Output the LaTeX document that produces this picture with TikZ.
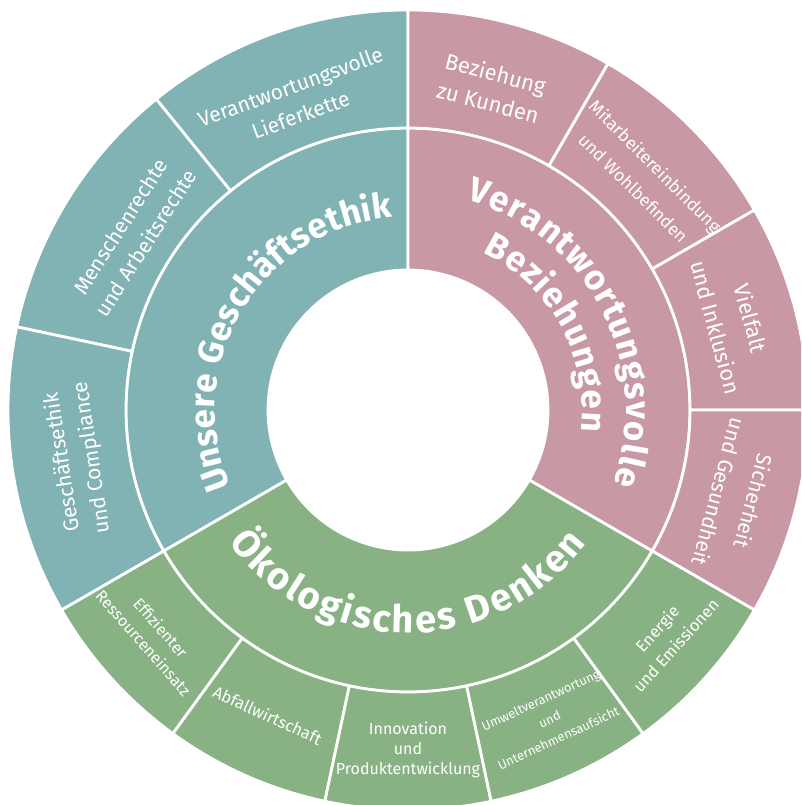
\documentclass[tikz,border=0pt]{standalone}
\usepackage{fontspec}
\setmainfont{Fira Sans}
\usetikzlibrary{decorations.text}

\definecolor{ethicteal}{RGB}{129,178,180}
\definecolor{relrose}{RGB}{200,152,165}
\definecolor{ecogreen}{RGB}{136,178,132}

\tikzset{
  piece/.style={draw=white, line width=2.8pt, line join=round},
  leaf/.style={text=white, align=center, inner sep=0pt,
    font=\fontsize{21}{30}\selectfont},
  hubtext/.style 2 args={decorate, decoration={text along path,
    text align=center, text={|#1|#2}}},
}

% annular sector: colour, start angle, end angle, inner radius, outer radius
\newcommand\ringpiece[5]{%
  \filldraw[piece, fill=#1]
    ([shift={(#2:#4pt)}]O) arc[start angle=#2, end angle=#3, radius=#4pt]
    -- ([shift={(#3:#5pt)}]O) arc[start angle=#3, end angle=#2, radius=#5pt]
    -- cycle;}
% letter formats of the curved headings (size, tracking)
\newcommand\ethicfont{\bfseries\fontsize{35}{35}\selectfont\color{white}\kern0.3pt}
\newcommand\rosefont{\bfseries\fontsize{35}{35}\selectfont\color{white}\kern1.3pt}
\newcommand\ecofont{\bfseries\fontsize{38}{38}\selectfont\color{white}\kern2.4pt}

\begin{document}
\begin{tikzpicture}
\clip (0,0) rectangle (801pt,805pt);
\fill[white] (0,0) rectangle (801pt,805pt);
\coordinate (O) at (408pt,395pt);

% inner ring
\ringpiece{ethicteal}{90}{210}{140}{282}
\ringpiece{relrose}{-30}{90}{140}{282}
\ringpiece{ecogreen}{210}{330}{140}{282}

% outer ring: business ethics
\ringpiece{ethicteal}{90}{129}{282}{400}
\ringpiece{ethicteal}{129}{168}{282}{400}
\ringpiece{ethicteal}{168}{210}{282}{400}
% outer ring: relationships
\ringpiece{relrose}{60}{90}{282}{400}
\ringpiece{relrose}{30}{60}{282}{400}
\ringpiece{relrose}{0}{30}{282}{400}
\ringpiece{relrose}{-30}{0}{282}{400}
% outer ring: ecology
\ringpiece{ecogreen}{210}{234}{282}{400}
\ringpiece{ecogreen}{234}{258}{282}{400}
\ringpiece{ecogreen}{258}{282}{282}{400}
\ringpiece{ecogreen}{282}{306}{282}{400}
\ringpiece{ecogreen}{306}{330}{282}{400}

% curved headings of the inner ring
\path[hubtext={\ethicfont}{Unsere Geschäftsethik}]
  ([shift={(219:193pt)}]O) arc[start angle=219, end angle=79, radius=193pt];
\path[hubtext={\rosefont}{Verantwortungsvolle}]
  ([shift={(100:218pt)}]O) arc[start angle=100, end angle=-45, radius=218pt];
\path[hubtext={\rosefont}{Beziehungen}]
  ([shift={(100:174pt)}]O) arc[start angle=100, end angle=-42, radius=174pt];
\path[hubtext={\ecofont}{Ökologisches Denken}]
  ([shift={(199:223pt)}]O) arc[start angle=199, end angle=340, radius=223pt];

% outer labels
\node[leaf, rotate=20] (lieferkette) at ([shift={(110:329pt)}]O)
  {Verantwortungsvolle\\Lieferkette};
\node[leaf, rotate=57.5] (menschenrechte) at ([shift={(147.5:326pt)}]O)
  {Menschenrechte\\und Arbeitsrechte};
\node[leaf, rotate=98.6] (compliance) at ([shift={(188.6:334pt)}]O)
  {Geschäftsethik\\und Compliance};

\node[leaf, rotate=-14.6, font=\fontsize{22}{30}\selectfont]
  (kunden) at ([shift={(75.4:333pt)}]O) {Beziehung\\zu Kunden};
\node[leaf, rotate=-45, font=\fontsize{17.5}{31}\selectfont]
  (mitarbeiter) at ([shift={(44.6:332pt)}]O)
  {Mitarbeitereinbindung\\und Wohlbefinden};
\node[leaf, rotate=-75, font=\fontsize{22}{36}\selectfont]
  (vielfalt) at ([shift={(15:337pt)}]O) {Vielfalt\\und Inklusion};
\node[leaf, rotate=-105, font=\fontsize{21}{36}\selectfont]
  (sicherheit) at ([shift={(-14.8:340pt)}]O) {Sicherheit\\und Gesundheit};

\node[leaf, rotate=-48.6, font=\fontsize{16}{23}\selectfont]
  (ressourcen) at ([shift={(221.4:341pt)}]O) {Effizienter\\Ressourceneinsatz};
\node[leaf, rotate=-24.7, font=\fontsize{16.5}{22}\selectfont]
  (abfall) at ([shift={(245.3:336pt)}]O) {Abfallwirtschaft};
\node[leaf, rotate=0, font=\fontsize{16}{20}\selectfont]
  (innovation) at ([shift={(270:340pt)}]O) {Innovation\\und\\Produktentwicklung};
\node[leaf, rotate=25, font=\fontsize{12.8}{21}\selectfont]
  (umwelt) at ([shift={(294.6:340pt)}]O)
  {Umweltverantwortung\\und\\Unternehmensaufsicht};
\node[leaf, rotate=48, font=\fontsize{16.5}{25}\selectfont]
  (energie) at ([shift={(318.7:344pt)}]O) {Energie\\und Emissionen};
\end{tikzpicture}
\end{document}
